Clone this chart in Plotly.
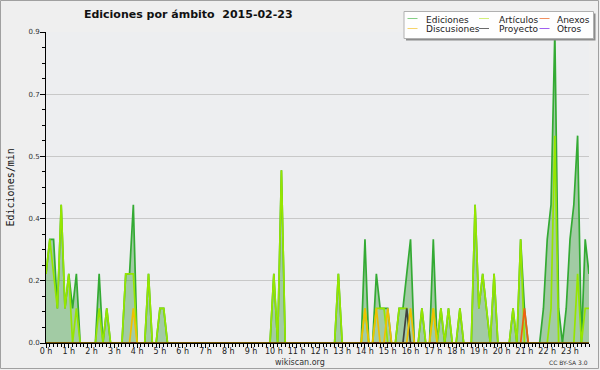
import plotly.graph_objects as go

# ---------------- data (10-minute bins, edits per minute) ----------------
hours = list(range(24))
hour_labels = [f"{h} h" for h in hours]
bins_per_hour = 6
times = [i / bins_per_hour for i in range(24 * bins_per_hour)]

ediciones = [
    0.2, 0.3, 0.3, 0.1, 0.4, 0.1,   # 0 h
    0.2, 0.1, 0.2, 0, 0, 0,         # 1 h
    0, 0, 0.2, 0, 0.1, 0,           # 2 h
    0, 0, 0, 0.2, 0.2, 0.4,         # 3 h
    0, 0, 0, 0.2, 0, 0,             # 4 h
    0.1, 0.1, 0, 0, 0, 0,           # 5 h
    0, 0, 0, 0, 0, 0,               # 6 h
    0, 0, 0, 0, 0, 0,               # 7 h
    0, 0, 0, 0, 0, 0,               # 8 h
    0, 0, 0, 0, 0, 0,               # 9 h
    0.2, 0, 0.5, 0, 0, 0,           # 10 h
    0, 0, 0, 0, 0, 0,               # 11 h
    0, 0, 0, 0, 0, 0.2,             # 12 h
    0, 0, 0, 0, 0, 0,               # 13 h
    0.3, 0, 0, 0.2, 0.1, 0.1,       # 14 h
    0.1, 0, 0, 0.1, 0.1, 0.2,       # 15 h
    0.3, 0, 0, 0.1, 0, 0,           # 16 h
    0.3, 0, 0.1, 0, 0.1, 0,         # 17 h
    0, 0.1, 0, 0, 0, 0.4,           # 18 h
    0.1, 0.2, 0.1, 0, 0.2, 0,       # 19 h
    0, 0, 0, 0.1, 0, 0.3,           # 20 h
    0.1, 0, 0, 0, 0, 0.1,           # 21 h
    0.3, 0.4, 0.9, 0.1, 0, 0.1,     # 22 h
    0.3, 0.4, 0.6, 0, 0.3, 0.2,     # 23 h
]

articulos = [
    0.2, 0.3, 0.2, 0.1, 0.4, 0.1,   # 0 h
    0.2, 0, 0.1, 0, 0, 0,           # 1 h
    0, 0, 0.1, 0, 0.1, 0,           # 2 h
    0, 0, 0, 0.2, 0.2, 0.2,         # 3 h
    0, 0, 0, 0.2, 0, 0,             # 4 h
    0.1, 0.1, 0, 0, 0, 0,           # 5 h
    0, 0, 0, 0, 0, 0,               # 6 h
    0, 0, 0, 0, 0, 0,               # 7 h
    0, 0, 0, 0, 0, 0,               # 8 h
    0, 0, 0, 0, 0, 0,               # 9 h
    0.2, 0, 0.5, 0, 0, 0,           # 10 h
    0, 0, 0, 0, 0, 0,               # 11 h
    0, 0, 0, 0, 0, 0.2,             # 12 h
    0, 0, 0, 0, 0, 0,               # 13 h
    0.1, 0, 0, 0.1, 0.1, 0.1,       # 14 h
    0, 0, 0, 0.1, 0.1, 0.1,         # 15 h
    0, 0, 0, 0.1, 0, 0,             # 16 h
    0.1, 0, 0.1, 0, 0.1, 0,         # 17 h
    0, 0.1, 0, 0, 0, 0.4,           # 18 h
    0.1, 0.2, 0.1, 0, 0.2, 0,       # 19 h
    0, 0, 0, 0.1, 0, 0.3,           # 20 h
    0, 0, 0, 0, 0, 0,               # 21 h
    0, 0.1, 0.6, 0, 0, 0,           # 22 h
    0, 0, 0.2, 0, 0.1, 0.1,         # 23 h
]

discusiones = [0] * 144
for b in (23, 84, 87, 90, 96, 102):
    discusiones[b] = 0.1

anexos = [0] * 144
anexos[126] = 0.1

proyecto = [0] * 144
proyecto[95] = 0.1

otros = [0] * 144

y_tickvals = [0, 0.18, 0.36, 0.54, 0.72, 0.9]
y_ticktext = ["0.0", "0.2", "0.4", "0.5", "0.7", "0.9"]

legend_labels = [["Ediciones", "Artículos", "Anexos"],
                 ["Discusiones", "Proyecto", "Otros"]]

# ---------------- styles ----------------
W_FIG, H_FIG = 600, 370
L, R, T, B = 46, 11, 32, 27
PW, PH = W_FIG - L - R, H_FIG - T - B


def px(x):
    return (x - L) / PW


def py(y):
    return 1 - (y - T) / PH


FONT = "DejaVu Sans"
LW = 1.7
line_colors = {
    "Ediciones": "#33aa33",
    "Artículos": "#96e600",
    "Anexos": "#f06010",
    "Discusiones": "#f0c000",
    "Proyecto": "#404040",
    "Otros": "#8a2be2",
}
legend_colors = {
    "Ediciones": "#86cf86",
    "Artículos": "#d2ef7a",
    "Anexos": "#f09060",
    "Discusiones": "#f6d46a",
    "Proyecto": "#6a6a6a",
    "Otros": "#a060f0",
}

fig = go.Figure()
fig.add_trace(go.Scatter(x=times, y=ediciones, mode="lines", name="Ediciones",
                         line=dict(color=line_colors["Ediciones"], width=LW),
                         fill="tozeroy", fillcolor="rgba(51,150,51,0.4)"))
fig.add_trace(go.Scatter(x=times, y=otros, mode="lines", name="Otros",
                         line=dict(color=line_colors["Otros"], width=LW)))
fig.add_trace(go.Scatter(x=times, y=articulos, mode="lines", name="Artículos",
                         line=dict(color=line_colors["Artículos"], width=LW)))
fig.add_trace(go.Scatter(x=times, y=proyecto, mode="lines", name="Proyecto",
                         line=dict(color=line_colors["Proyecto"], width=LW)))
fig.add_trace(go.Scatter(x=times, y=anexos, mode="lines", name="Anexos",
                         line=dict(color=line_colors["Anexos"], width=LW)))
fig.add_trace(go.Scatter(x=times, y=discusiones, mode="lines", name="Discusiones",
                         line=dict(color=line_colors["Discusiones"], width=LW)))

shapes = []
# outer border
shapes.append(dict(type="rect", xref="paper", yref="paper",
                   x0=px(0.5), x1=px(598.5), y0=py(0.5), y1=py(368.5),
                   line=dict(color="#a0a0a0", width=1), layer="below"))
# baseline cover (axis drawn over zero lines)
shapes.append(dict(type="line", xref="paper", yref="paper",
                   x0=0, x1=1, y0=0, y1=0, line=dict(color="black", width=1)))
# legend shadow + box
shapes.append(dict(type="rect", xref="paper", yref="paper",
                   x0=px(406), x1=px(595.5), y0=py(13.5), y1=py(40.5),
                   fillcolor="#8c8c8c", line=dict(width=0)))
shapes.append(dict(type="rect", xref="paper", yref="paper",
                   x0=px(404), x1=px(593.5), y0=py(11.5), y1=py(38.5),
                   fillcolor="#fefefe", line=dict(color="#b0b0b0", width=1)))

annotations = []
col_sample_x = [(407.5, 417.5), (479, 489), (539.5, 549.5)]
col_text_x = [424, 496.5, 555]
row_sample_y = [18.5, 28.5]
row_text_y = [19.5, 29]
for r, row in enumerate(legend_labels):
    for c, lab in enumerate(row):
        x0, x1 = col_sample_x[c]
        shapes.append(dict(type="line", xref="paper", yref="paper",
                           x0=px(x0), x1=px(x1), y0=py(row_sample_y[r]), y1=py(row_sample_y[r]),
                           line=dict(color=legend_colors[lab], width=1)))
        annotations.append(dict(text=lab, xref="paper", yref="paper",
                                x=px(col_text_x[c]), y=py(row_text_y[r]),
                                xanchor="left", yanchor="middle", showarrow=False,
                                font=dict(family=FONT, size=9, color="#222222")))

annotations.append(dict(text="Ediciones/min", xref="paper", yref="paper",
                        x=px(9.5), y=py(188), textangle=-90, showarrow=False,
                        xanchor="center", yanchor="middle",
                        font=dict(family="DejaVu Sans Mono", size=10, color="#111111")))
annotations.append(dict(text="wikiscan.org", xref="paper", yref="paper",
                        x=px(300), y=py(362), showarrow=False,
                        xanchor="center", yanchor="middle",
                        font=dict(family=FONT, size=8, color="#333333")))
annotations.append(dict(text="CC BY-SA 3.0", xref="paper", yref="paper",
                        x=px(590), y=py(362.5), showarrow=False,
                        xanchor="right", yanchor="middle",
                        font=dict(family=FONT, size=6, color="#333333")))

fig.update_layout(
    width=W_FIG, height=H_FIG, autosize=False,
    margin=dict(l=L, r=R, t=T, b=B, pad=0),
    paper_bgcolor="#efefef",
    plot_bgcolor="#edeef0",
    showlegend=False,
    title=dict(text="Ediciones por ámbito  2015-02-23", xref="container", yref="container",
               x=188.3 / W_FIG, y=1 - 14.5 / H_FIG, xanchor="center", yanchor="middle",
               font=dict(family=FONT, size=11, weight="bold", color="#111111")),
    xaxis=dict(range=[0, times[-1]], tickmode="array", tickvals=hours, ticktext=hour_labels,
               ticks="outside", ticklen=4, tickcolor="black", tickwidth=1,
               ticklabelstandoff=-4,
               showline=True, linecolor="black", linewidth=1, showgrid=False, zeroline=False,
               tickfont=dict(family=FONT, size=8, color="#222222"),
               minor=dict(ticks="outside", ticklen=3, tickcolor="black", tick0=0,
                          dtick=1 / bins_per_hour, showgrid=False)),
    yaxis=dict(range=[0, 0.9], tickmode="array", tickvals=y_tickvals, ticktext=y_ticktext,
               ticks="outside", ticklen=5, tickcolor="black", tickwidth=1,
               ticklabelstandoff=-1,
               showline=True, linecolor="black", linewidth=1,
               showgrid=True, gridcolor="#c8c8c8", gridwidth=1, zeroline=False,
               tickfont=dict(family=FONT, size=7, color="#333333"),
               minor=dict(ticks="outside", ticklen=3, tickcolor="black", tick0=0,
                          dtick=0.045, showgrid=False)),
    shapes=shapes,
    annotations=annotations,
)

fig.write_html("out.html", config={"displayModeBar": False},
               post_script="document.body.style.margin='0';document.body.style.overflow='hidden';")
